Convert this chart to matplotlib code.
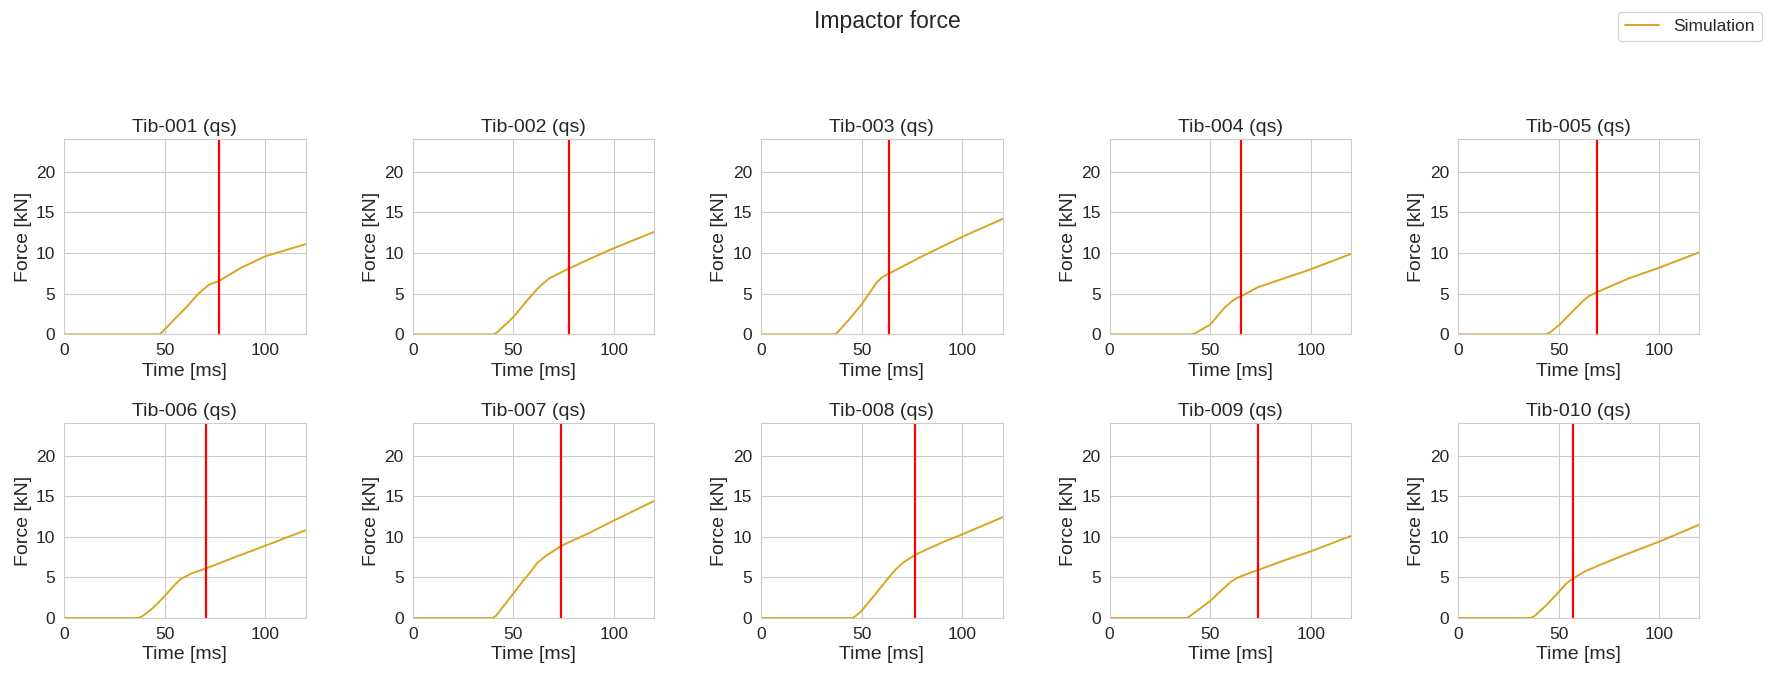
import numpy as np
import matplotlib
matplotlib.use("Agg")
import matplotlib.pyplot as plt
import seaborn as sns

# test names and red marker times (ms)
names = ["Tib-001", "Tib-002", "Tib-003", "Tib-004", "Tib-005",
         "Tib-006", "Tib-007", "Tib-008", "Tib-009", "Tib-010"]
marker_ms = [77.2, 77.7, 63.7, 65.5, 69.2, 70.5, 73.6, 76.7, 73.7, 56.9]

# simulated impactor force (time [ms], force [kN])
t_001 = [0, 47.5, 49, 55, 61, 66, 69, 72, 77.2, 88, 100, 120]
f_001 = [0, 0, 0.35, 1.9, 3.4, 4.8, 5.5, 6.1, 6.6, 8.2, 9.6, 11.1]
t_002 = [0, 40.5, 42, 50, 57, 62, 65, 68, 77.7, 90, 100, 120]
f_002 = [0, 0, 0.25, 2.1, 4.2, 5.6, 6.3, 6.9, 8.1, 9.5, 10.6, 12.6]
t_003 = [0, 36.7, 38, 44, 50, 55, 57.5, 60, 63.7, 80, 100, 120]
f_003 = [0, 0, 0.25, 1.9, 3.7, 5.5, 6.4, 7.0, 7.5, 9.6, 12.0, 14.2]
t_004 = [0, 41.3, 43, 50, 57.2, 61, 63.5, 65.5, 73.8, 88, 100, 120]
f_004 = [0, 0, 0.2, 1.2, 3.3, 4.1, 4.5, 4.7, 5.8, 7.0, 8.0, 9.9]
t_005 = [0, 43.8, 45.5, 50.5, 57.2, 62, 65, 69.2, 85, 100, 120]
f_005 = [0, 0, 0.2, 1.2, 2.9, 4.1, 4.7, 5.2, 6.9, 8.2, 10.1]
t_006 = [0, 37, 39, 44, 50, 55, 58, 63.4, 70.5, 85, 100, 120]
f_006 = [0, 0, 0.25, 1.2, 2.7, 4.1, 4.8, 5.5, 6.1, 7.5, 8.9, 10.8]
t_007 = [0, 39.9, 41.5, 50, 55, 59, 62, 66, 73.6, 88, 100, 120]
f_007 = [0, 0, 0.3, 3.0, 4.6, 5.8, 6.8, 7.6, 8.85, 10.5, 12.0, 14.4]
t_008 = [0, 45.5, 47, 50, 57, 63.8, 67, 70.5, 76.7, 90, 100, 120]
f_008 = [0, 0, 0.25, 0.9, 3.0, 5.1, 6.0, 6.8, 7.8, 9.3, 10.3, 12.4]
t_009 = [0, 38.5, 40, 50, 56, 60, 63, 67, 73.7, 88, 100, 120]
f_009 = [0, 0, 0.25, 2.1, 3.5, 4.4, 4.9, 5.3, 5.9, 7.2, 8.2, 10.1]
t_010 = [0, 36.2, 38, 44, 50, 54, 56.9, 60, 63.5, 80, 100, 120]
f_010 = [0, 0, 0.25, 1.6, 3.2, 4.3, 4.8, 5.3, 5.8, 7.5, 9.4, 11.5]

times = [t_001, t_002, t_003, t_004, t_005, t_006, t_007, t_008, t_009, t_010]
forces = [f_001, f_002, f_003, f_004, f_005, f_006, f_007, f_008, f_009, f_010]

sns.set_style("whitegrid")
plt.rcParams['font.family'] = ['Liberation Sans', 'DejaVu Sans']
plt.rcParams['axes.edgecolor'] = '#cccccc'
plt.rcParams['grid.color'] = '#cccccc'

fig, axes = plt.subplots(2, 5, figsize=(17.74, 6.78), dpi=100)
fig.subplots_adjust(left=0.0362, right=0.958, bottom=0.0885, top=0.7945,
                    wspace=0.444, hspace=0.455)

for i, ax in enumerate(axes.flat):
    line, = ax.plot(times[i], forces[i], color='#DAA520', linewidth=1.4,
                    label='Simulation')
    ax.axvline(marker_ms[i], color='red', linewidth=1.6)
    ax.set_xlim(0, 120)
    ax.set_ylim(0, 24)
    ax.set_xticks([0, 50, 100])
    ax.set_yticks([0, 5, 10, 15, 20])
    ax.tick_params(labelsize=12.5, colors='#262626', pad=3)
    ax.set_title(names[i] + " (qs)", fontsize=14, color='#262626', pad=5)
    ax.set_xlabel("Time [ms]", fontsize=14, color='#262626', labelpad=3)
    ax.set_ylabel("Force [kN]", fontsize=14, color='#262626', labelpad=3)

fig.suptitle("Impactor force", fontsize=16.5, y=0.985, color='#262626')
fig.legend([line], ['Simulation'], loc='upper right', fontsize=12.5,
           bbox_to_anchor=(0.998, 0.995))

fig.savefig("out.png", dpi=100)
